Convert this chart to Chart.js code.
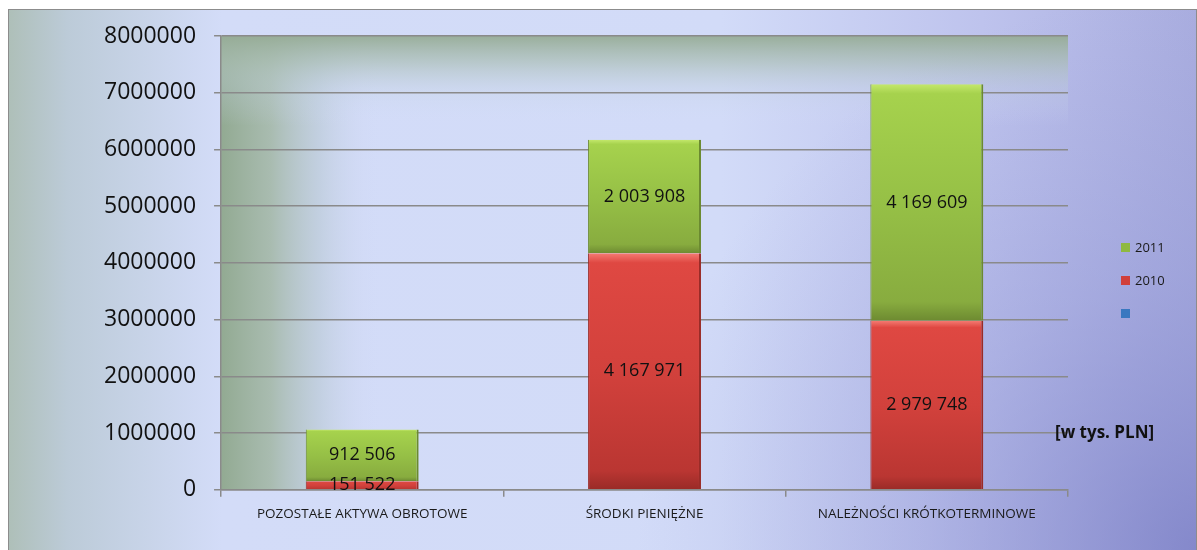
<!DOCTYPE html>
<html>
<head>
<meta charset="utf-8">
<script src="https://cdn.jsdelivr.net/npm/chart.js@4"></script>
<style>
  html, body { margin: 0; padding: 0; background: #fff; }
  canvas { display: block; }
</style>
</head>
<body>
<canvas id="barChart" width="1197" height="550"></canvas>
<script>
// data (w tys. PLN)
const categories = ['POZOSTAŁE AKTYWA OBROTOWE', 'ŚRODKI PIENIĘŻNE', 'NALEŻNOŚCI KRÓTKOTERMINOWE'];
const blankSeries = [0, 0, 0];
const values2010 = [151522, 4167971, 2979748];
const values2011 = [912506, 2003908, 4169609];
const yTicks = [0, 1000000, 2000000, 3000000, 4000000, 5000000, 6000000, 7000000, 8000000];
const unitNote = '[w tys. PLN]';

const seriesList = [blankSeries, values2010, values2011];

function fmt(n) {
  return String(n).replace(/\B(?=(\d{3})+(?!\d))/g, ' ');
}

// vertical gradient over one stacked segment
function segmentFill(stops, fallback) {
  return function (context) {
    const chart = context.chart;
    if (!chart.chartArea || context.type !== 'data') return fallback;
    const ds = context.datasetIndex, i = context.dataIndex;
    let base = 0;
    for (let k = 0; k < ds; k++) base += seriesList[k][i];
    const y = chart.scales.y;
    const top = y.getPixelForValue(base + seriesList[ds][i]);
    const bottom = y.getPixelForValue(base);
    if (!isFinite(top) || !isFinite(bottom) || bottom - top < 1) return fallback;
    const g = chart.ctx.createLinearGradient(0, top, 0, bottom);
    stops.forEach(s => g.addColorStop(s[0], s[1]));
    return g;
  };
}

const greenFill = segmentFill([[0, '#c4e86c'], [0.04, '#a6d24d'], [0.5, '#96c046'], [0.92, '#88ac3f'], [1, '#6d8a31']], '#95bf45');
const redFill = segmentFill([[0, '#f47a72'], [0.04, '#df4842'], [0.5, '#d2413c'], [0.92, '#ba3632'], [1, '#992a27']], '#d1403b');

const backdrop = {
  id: 'backdrop',
  beforeDraw(chart) {
    const ctx = chart.ctx;
    const W = chart.width, H = chart.height;
    const a = chart.chartArea;
    ctx.save();
    ctx.fillStyle = '#ffffff';
    ctx.fillRect(0, 0, W, H);

    // outer picture fill
    const bx = 8, by = 9, bw = W - 9, bh = H - 9;
    let g = ctx.createLinearGradient(bx, 0, bx + bw, 0);
    g.addColorStop(0, '#aebfb8');
    g.addColorStop(0.05, '#bccbd8');
    g.addColorStop(0.18, '#d3dcf8');
    g.addColorStop(0.6, '#d2dbf8');
    g.addColorStop(0.82, '#bec3ed');
    g.addColorStop(1, '#a9addf');
    ctx.fillStyle = g;
    ctx.fillRect(bx, by, bw, bh);

    let r = ctx.createRadialGradient(W, H, 0, W, H, 560);
    r.addColorStop(0, 'rgba(120,124,196,0.75)');
    r.addColorStop(0.5, 'rgba(140,145,210,0.35)');
    r.addColorStop(1, 'rgba(150,155,215,0)');
    ctx.fillStyle = r;
    ctx.fillRect(bx, by, bw, bh);

    ctx.strokeStyle = '#8c8c8c';
    ctx.lineWidth = 1;
    ctx.strokeRect(bx + 0.5, by + 0.5, bw, bh + 5);

    // plot area tints
    const lw = 165;
    g = ctx.createLinearGradient(a.left, 0, a.left + lw, 0);
    g.addColorStop(0, 'rgba(146,170,146,1)');
    g.addColorStop(0.3, 'rgba(164,184,168,0.9)');
    g.addColorStop(0.6, 'rgba(184,200,210,0.6)');
    g.addColorStop(0.85, 'rgba(205,214,240,0.25)');
    g.addColorStop(1, 'rgba(212,222,250,0)');
    ctx.fillStyle = g;
    ctx.fillRect(a.left, a.top, lw, a.bottom - a.top);

    const th = 90;
    g = ctx.createLinearGradient(0, a.top, 0, a.top + th);
    g.addColorStop(0, 'rgba(150,172,150,0.95)');
    g.addColorStop(0.3, 'rgba(170,190,180,0.65)');
    g.addColorStop(0.65, 'rgba(195,210,225,0.25)');
    g.addColorStop(1, 'rgba(212,222,250,0)');
    ctx.fillStyle = g;
    ctx.fillRect(a.left, a.top, a.right - a.left, th);
    ctx.restore();
  }
};

const segmentLabels = {
  id: 'segmentLabels',
  afterDatasetsDraw(chart) {
    const ctx = chart.ctx;
    ctx.save();
    ctx.font = '18px "Open Sans", sans-serif';
    ctx.fillStyle = '#111111';
    ctx.textAlign = 'center';
    ctx.textBaseline = 'middle';
    chart.data.datasets.forEach((ds, i) => {
      if (!ds.label) return;
      const meta = chart.getDatasetMeta(i);
      meta.data.forEach((bar, j) => {
        if (!ds.data[j]) return;
        const p = bar.getProps(['x', 'y', 'base'], true);
        ctx.fillText(fmt(ds.data[j]), p.x, (p.y + p.base) / 2);
      });
    });
    ctx.restore();
  }
};

// legend (reversed, like the original) and the unit note
const sideNotes = {
  id: 'sideNotes',
  afterDraw(chart) {
    const ctx = chart.ctx;
    ctx.save();
    const items = chart.data.datasets.slice().reverse();
    ctx.font = '13px "Open Sans", sans-serif';
    ctx.textBaseline = 'middle';
    items.forEach((ds, k) => {
      const cy = 248 + k * 33;
      ctx.fillStyle = ds.legendColor;
      ctx.fillRect(1121, cy - 5, 9, 9);
      ctx.fillStyle = '#1a1a1a';
      ctx.fillText(ds.label, 1135, cy);
    });
    ctx.font = 'bold 17px "Open Sans", sans-serif';
    ctx.fillStyle = '#111111';
    ctx.fillText(unitNote, 1055, 433);
    ctx.restore();
  }
};

new Chart(document.getElementById('barChart'), {
  type: 'bar',
  data: {
    labels: categories,
    datasets: [
      { label: '', data: blankSeries, backgroundColor: '#3a78c0', legendColor: '#3a78c0' },
      { label: '2010', data: values2010, backgroundColor: redFill, borderColor: '#9a2c28', borderWidth: { left: 1, right: 2 }, legendColor: '#d13f3a' },
      { label: '2011', data: values2011, backgroundColor: greenFill, borderColor: '#6b8a30', borderWidth: { left: 1, right: 2 }, legendColor: '#8fb940' }
    ]
  },
  options: {
    responsive: false,
    animation: false,
    layout: { padding: { left: 86, right: 129, top: 36, bottom: 19 } },
    datasets: { bar: { barPercentage: 0.8, categoryPercentage: 0.5 } },
    plugins: {
      legend: { display: false },
      tooltip: { enabled: false }
    },
    scales: {
      x: {
        stacked: true,
        grid: { offset: true, drawOnChartArea: false, tickLength: 7, color: '#8a8a8a', lineWidth: 1.5 },
        border: { color: '#8a8a8a', width: 1.5 },
        ticks: { color: '#1a1a1a', padding: 9, maxRotation: 0, font: { family: 'Open Sans', size: 13.5 } }
      },
      y: {
        stacked: true,
        min: 0,
        max: 8000000,
        afterBuildTicks: axis => { axis.ticks = yTicks.map(v => ({ value: v })); },
        grid: { color: '#8a8a8a', lineWidth: 1.5, tickLength: 7 },
        border: { color: '#8a8a8a', width: 1.5 },
        ticks: { color: '#111111', padding: 18, callback: v => String(v), font: { family: 'Open Sans', size: 23 } }
      }
    }
  },
  plugins: [backdrop, segmentLabels, sideNotes]
});
</script>
</body>
</html>
